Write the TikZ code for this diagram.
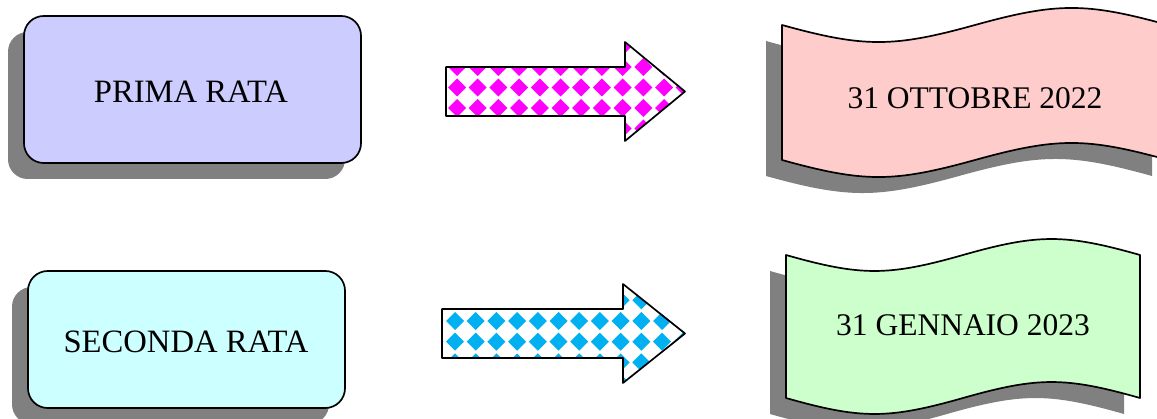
\documentclass[tikz,border=0pt]{standalone}
\usepackage{fontspec}
\setmainfont{Liberation Serif}
\definecolor{lilla}{HTML}{CCCCFF}
\definecolor{azzurro}{HTML}{CCFFFF}
\definecolor{rosa}{HTML}{FFCCCC}
\definecolor{verde}{HTML}{CCFFCC}
\definecolor{grigio}{HTML}{808080}
\definecolor{fucsia}{HTML}{FF00FF}
\definecolor{celeste}{HTML}{00B0F0}
\def\frecciaA{(446,67) -- (625,67) -- (625,42) -- (685,91.5) -- (625,141) -- (625,116) -- (446,116) -- cycle}
\def\frecciaB{(442,309) -- (623,309) -- (623,284) -- (685,333.5) -- (623,383) -- (623,358) -- (442,358) -- cycle}
\def\bandieraA{(782,25) .. controls (864,47.7) and (893,47.7) .. (975,25) .. controls (1057,2.3) and (1086,2.3) .. (1168,25) -- (1168,160) .. controls (1086,137.3) and (1057,137.3) .. (975,160) .. controls (893,182.7) and (864,182.7) .. (782,160) -- cycle}
\def\bandieraB{(786,255) .. controls (861,276.3) and (888,276.3) .. (963,255) .. controls (1038,233.7) and (1065,233.7) .. (1140,255) -- (1140,398) .. controls (1065,376.7) and (1038,376.7) .. (963,398) .. controls (888,419.3) and (861,419.3) .. (786,398) -- cycle}

\begin{document}
\begin{tikzpicture}[x=0.025cm,y=-0.025cm,line width=1.2pt,line join=round,
		riquadro/.style={font=\fontsize{23.2}{27}\selectfont},
		bandiera/.style={font=\fontsize{22.4}{26}\selectfont}]
				\useasboundingbox (0,0) rectangle (1157,419);
				\clip (0,0) rectangle (1157,419);
				% riquadri
				\fill[grigio,rounded corners=14pt] (8,32) rectangle (345,179);
				\draw[fill=lilla,rounded corners=14pt] (24,16) rectangle (361,163);
				\fill[grigio,rounded corners=14pt] (12,287) rectangle (329,424);
				\draw[fill=azzurro,rounded corners=14pt] (28,271) rectangle (345,408);
				% frecce
				\begin{scope}
					\clip \frecciaA;
					\fill[white] \frecciaA;
					\foreach \i in {-1,...,12}
						\foreach \j in {-1,...,3}
							\fill[fucsia] ({457+20.7*\i},{67+20.5*\j}) +(-9,0) -- +(0,-9) -- +(9,0) -- +(0,9) -- cycle;
				\end{scope}
				\draw \frecciaA;
				\begin{scope}
					\clip \frecciaB;
					\fill[white] \frecciaB;
					\foreach \i in {-1,...,12}
						\foreach \j in {-2,...,3}
							\fill[celeste] ({455+20.7*\i},{321+20.7*\j}) +(-9,0) -- +(0,-9) -- +(9,0) -- +(0,9) -- cycle;
				\end{scope}
				\draw \frecciaB;
				% bandiere
				\fill[grigio,shift={(-16,16)}] \bandieraA;
				\draw[fill=rosa] \bandieraA;
				\fill[grigio,shift={(-16,16)}] \bandieraB;
				\draw[fill=verde] \bandieraB;
				\node[riquadro] (prima) at (191,92) {PRIMA RATA};
				\node[riquadro] (seconda) at (186,342) {SECONDA RATA};
				\node[bandiera] (ottobre) at (975,98) {31 OTTOBRE 2022};
				\node[bandiera] (gennaio) at (963,325) {31 GENNAIO 2023};
			\end{tikzpicture}
\end{document}
